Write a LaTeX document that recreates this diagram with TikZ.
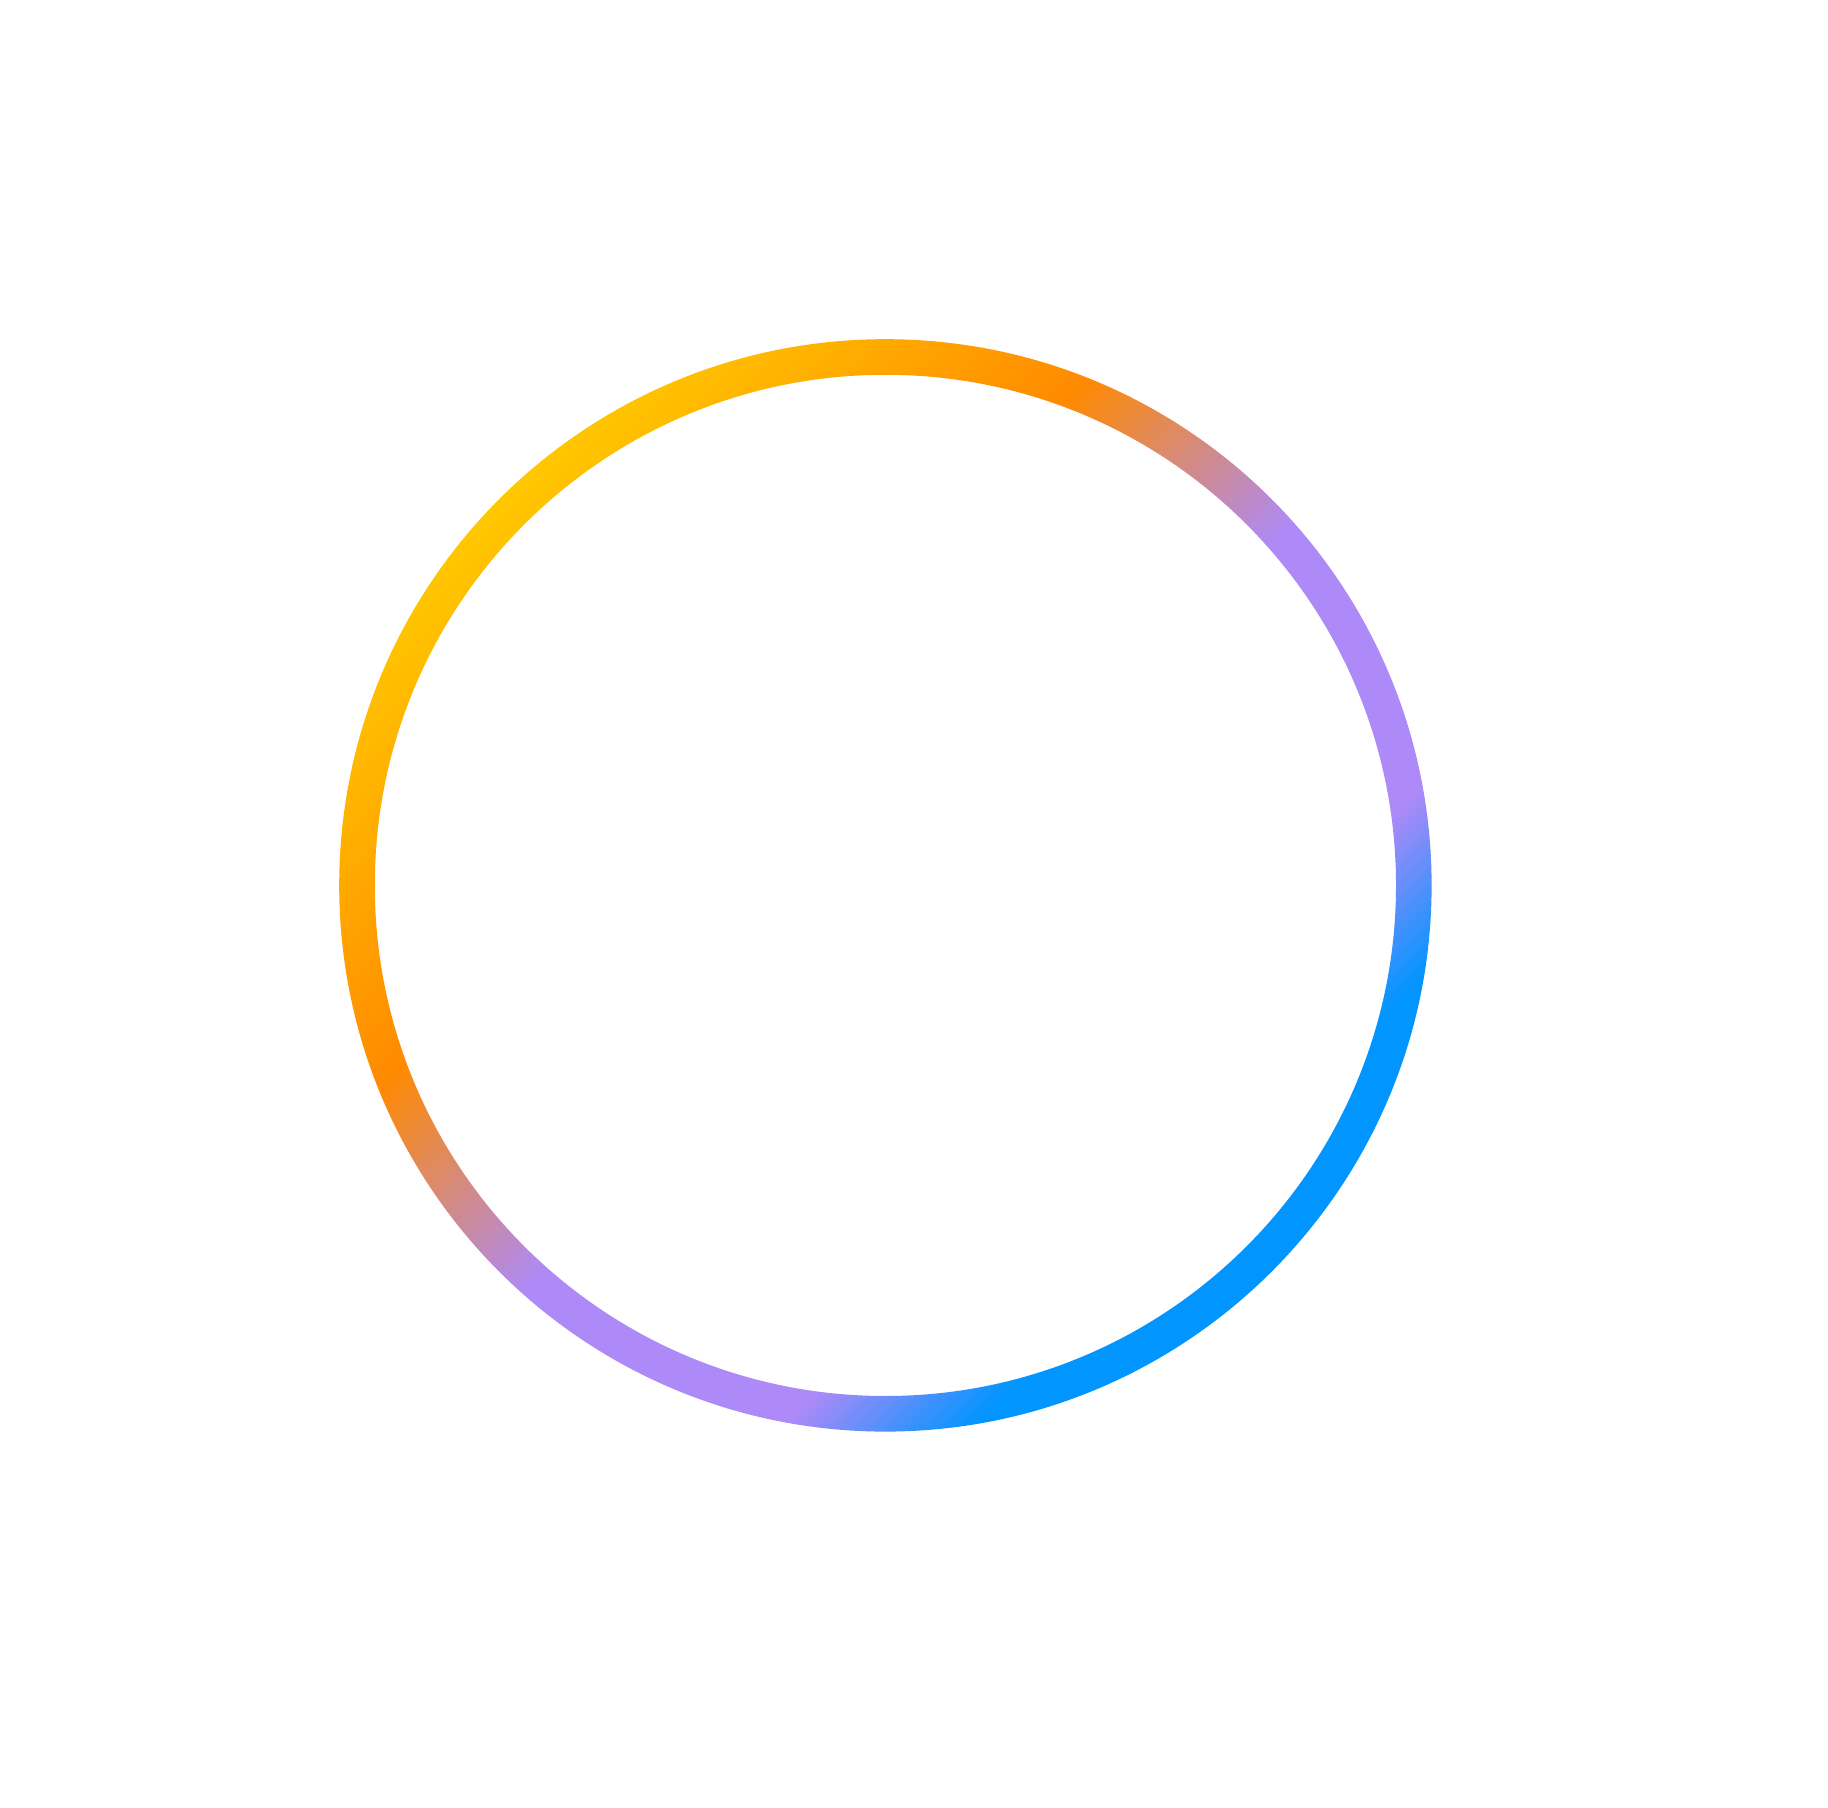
\documentclass[tikz,border=0pt]{standalone}
\usepackage{tikz}

\definecolor{ringyellow}{HTML}{FFC700}
\definecolor{ringorange}{HTML}{FF8A00}
\definecolor{ringpurple}{HTML}{AD8AF7}
\definecolor{ringblue}{HTML}{0095FF}

\pgfdeclarehorizontalshading{ringgrad}{100bp}{color(0bp)=(ringyellow); color(25bp)=(ringyellow); color(40bp)=(ringorange); color(51.5bp)=(ringpurple); color(64.25bp)=(ringpurple); color(70.5bp)=(ringblue); color(100bp)=(ringblue)}

\begin{document}
\begin{tikzpicture}
		\useasboundingbox (0,0) rectangle (18.28,18.07);
		\coordinate (ringcentre) at (8.854,9.216);
		\begin{scope}
		\shade[shading=ringgrad, shading angle=315, even odd rule] (ringcentre) circle (5.462) (ringcentre) circle (5.106);
		\end{scope}
	\end{tikzpicture}
\end{document}
